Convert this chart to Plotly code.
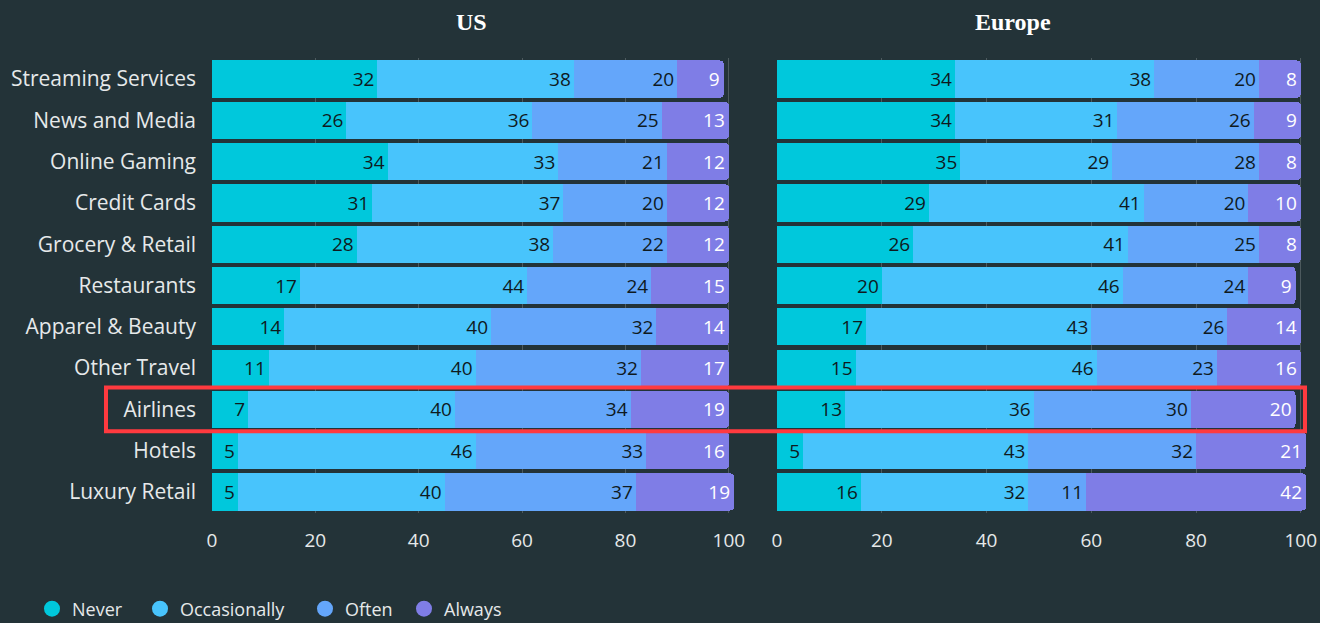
import plotly.graph_objects as go

categories = ["Streaming Services", "News and Media", "Online Gaming", "Credit Cards",
              "Grocery & Retail", "Restaurants", "Apparel & Beauty", "Other Travel",
              "Airlines", "Hotels", "Luxury Retail"]
series_names = ["Never", "Occasionally", "Often", "Always"]

us_never = [32, 26, 34, 31, 28, 17, 14, 11, 7, 5, 5]
us_occasionally = [38, 36, 33, 37, 38, 44, 40, 40, 40, 46, 40]
us_often = [20, 25, 21, 20, 22, 24, 32, 32, 34, 33, 37]
us_always = [9, 13, 12, 12, 12, 15, 14, 17, 19, 16, 19]

eu_never = [34, 34, 35, 29, 26, 20, 17, 15, 13, 5, 16]
eu_occasionally = [38, 31, 29, 41, 41, 46, 43, 46, 36, 43, 32]
eu_often = [20, 26, 28, 20, 25, 24, 26, 23, 30, 32, 11]
eu_always = [8, 9, 8, 10, 8, 9, 14, 16, 20, 21, 42]

x_ticks = [0, 20, 40, 60, 80, 100]
highlight = "Airlines"

colors = ["#00c8dc", "#48c4fc", "#64a6fa", "#7f7de6"]
text_colors = ["#0f1a1e", "#0f1a1e", "#0f1a1e", "#ffffff"]
bg = "#233338"
font_family = "'Open Sans', 'Noto Sans', sans-serif"

W, H = 1320, 623
fig = go.Figure()

us = [us_never, us_occasionally, us_often, us_always]
eu = [eu_never, eu_occasionally, eu_often, eu_always]

for panel, data, xa, ya in [("US", us, "x", "y"), ("Europe", eu, "x2", "y2")]:
    for i, name in enumerate(series_names):
        fig.add_trace(go.Bar(
            y=categories, x=data[i], name=name, orientation="h",
            marker=dict(color=colors[i], line=dict(width=0)),
            text=[str(v) for v in data[i]], textposition="inside",
            insidetextanchor="end", textangle=0, constraintext="none",
            textfont=dict(color=text_colors[i], size=19, family=font_family),
            showlegend=False, xaxis=xa, yaxis=ya, hoverinfo="skip",
        ))

legend_ids = ["legend", "legend2", "legend3", "legend4"]
legend_x_px = [32, 140, 305, 404]
for i, name in enumerate(series_names):
    fig.add_trace(go.Scatter(
        x=[None], y=[None], mode="markers", name=name,
        marker=dict(color=colors[i], size=18, symbol="circle"),
        showlegend=True, xaxis="x", yaxis="y", legend=legend_ids[i],
    ))

y_dom = [1 - 512.6 / H, 1 - 58.4 / H]
us_dom = [212 / W, 734 / W]
eu_dom = [777 / W, 1306 / W]

axis_common = dict(
    range=[0, 101], tickvals=x_ticks, showgrid=True, gridcolor="#4d5a5e", gridwidth=1,
    zeroline=False, showline=False, ticks="",
    tickfont=dict(size=19, color="#e6e9ea", family=font_family),
    ticklabelstandoff=14, fixedrange=True,
)

legend_style = dict(orientation="h", xanchor="left", y=1 - 609 / H, yanchor="middle",
                    font=dict(size=18, color="#e6e9ea", family=font_family),
                    bgcolor="rgba(0,0,0,0)", itemwidth=30, borderwidth=0)

fig.update_layout(
    width=W, height=H, autosize=False,
    margin=dict(l=0, r=0, t=0, b=0, autoexpand=False),
    paper_bgcolor=bg, plot_bgcolor=bg,
    barmode="stack", bargap=0.1, barcornerradius=4,
    font=dict(family=font_family, color="#e6e9ea"),
    xaxis=dict(domain=us_dom, anchor="y", **axis_common),
    xaxis2=dict(domain=eu_dom, anchor="y2", **axis_common),
    yaxis=dict(domain=y_dom, anchor="x", autorange="reversed", automargin=False,
               showgrid=False, zeroline=False, ticks="",
               tickfont=dict(size=21, color="#e6e9ea", family=font_family),
               ticklabelstandoff=15),
    yaxis2=dict(domain=y_dom, anchor="x2", autorange="reversed", automargin=False,
                showgrid=False, zeroline=False, showticklabels=False),
    annotations=[
        dict(text="<b>US</b>", x=471 / W, y=1 - 22 / H, xref="paper", yref="paper",
             yanchor="middle", showarrow=False,
             font=dict(size=24, color="#ffffff", family="'Liberation Serif', serif")),
        dict(text="<b>Europe</b>", x=1053 / W, y=1 - 22 / H, xref="paper", yref="paper",
             yanchor="middle", showarrow=False,
             font=dict(size=24, color="#ffffff", family="'Liberation Serif', serif")),
    ],
)
for lid, lx in zip(legend_ids, legend_x_px):
    fig.update_layout({lid: dict(x=lx / W, **legend_style)})

hi = categories.index(highlight)
fig.add_shape(type="rect", xref="paper", yref="y", x0=106 / W, x1=1305 / W,
              y0=hi - 0.53, y1=hi + 0.53, line=dict(color="#ff3a3f", width=4),
              fillcolor="rgba(0,0,0,0)", layer="above")

fig.write_html("out.html")
